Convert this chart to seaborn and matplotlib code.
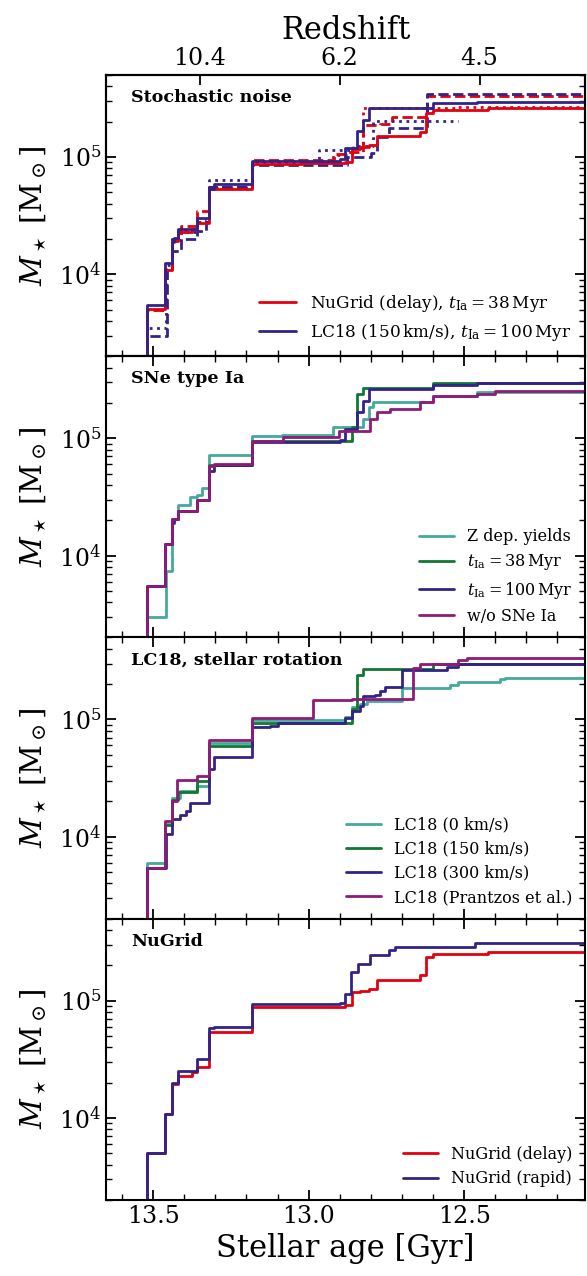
import matplotlib
matplotlib.use("Agg")
import matplotlib.pyplot as plt
import seaborn as sns
import numpy as np

# ---------------- data (stellar age [Gyr] at each step, cumulative stellar mass [Msun]) -------------
nugrid_delay_age = [13.52, 13.461, 13.44, 13.419, 13.376, 13.36, 13.32, 13.181, 13.022, 12.883,
                    12.861, 12.834, 12.805, 12.781, 12.641, 12.622, 12.60, 12.422, 12.0]
nugrid_delay_mass = [5.05e3, 1.09e4, 1.94e4, 2.29e4, 2.45e4, 2.73e4, 5.36e4, 8.77e4, 8.9e4, 9.1e4,
                     1.18e5, 1.21e5, 1.26e5, 1.50e5, 1.64e5, 2.35e5, 2.51e5, 2.6e5, 2.6e5]

nugrid_rapid_age = [13.52, 13.461, 13.44, 13.421, 13.36, 13.32, 13.303, 13.181, 12.899, 12.883,
                    12.864, 12.842, 12.802, 12.74, 12.722, 12.465, 12.0]
nugrid_rapid_mass = [5.05e3, 1.09e4, 2.0e4, 2.5e4, 3.16e4, 5.9e4, 6.0e4, 9.3e4, 9.5e4, 1.14e5,
                     1.75e5, 2.05e5, 2.46e5, 2.71e5, 2.89e5, 3.09e5, 3.09e5]

lc150_t100_age = [13.52, 13.461, 13.44, 13.432, 13.419, 13.36, 13.322, 13.303, 13.181, 12.899,
                  12.883, 12.843, 12.824, 12.805, 12.599, 12.459, 12.0]
lc150_t100_mass = [5.45e3, 1.26e4, 1.9e4, 2.05e4, 2.42e4, 2.99e4, 5.3e4, 5.9e4, 9.2e4, 9.7e4,
                   1.19e5, 1.67e5, 2.07e5, 2.64e5, 2.87e5, 2.96e5, 2.96e5]

lc150_t38_age = [13.52, 13.461, 13.44, 13.419, 13.36, 13.32, 13.181, 12.861, 12.843, 12.824, 12.599, 12.0]
lc150_t38_mass = [5.45e3, 1.26e4, 2.06e4, 2.42e4, 2.99e4, 5.93e4, 9.4e4, 1.24e5, 2.39e5, 2.67e5, 2.96e5, 2.96e5]

zdep_age = [13.52, 13.459, 13.44, 13.419, 13.381, 13.36, 13.343, 13.322, 13.181, 13.087, 12.923,
            12.824, 12.805, 12.792, 12.599, 12.459, 12.0]
zdep_mass = [3.0e3, 7.45e3, 2.06e4, 2.72e4, 3.14e4, 3.3e4, 3.8e4, 7.2e4, 1.05e5, 1.06e5, 1.24e5,
             1.46e5, 1.84e5, 2.03e5, 2.31e5, 2.5e5, 2.5e5]

noIa_age = [13.52, 13.461, 13.44, 13.419, 13.36, 13.32, 13.303, 13.181, 13.083, 12.901, 12.802,
            12.781, 12.738, 12.641, 12.599, 12.459, 12.40, 12.0]
noIa_mass = [5.45e3, 1.26e4, 2.03e4, 2.42e4, 3.0e4, 5.8e4, 6.0e4, 9.5e4, 1.03e5, 1.15e5, 1.46e5,
             1.69e5, 1.78e5, 2.03e5, 2.28e5, 2.39e5, 2.51e5, 2.51e5]

lc0_age = [13.52, 13.461, 13.44, 13.413, 13.36, 13.32, 13.181, 12.883, 12.861, 12.834, 12.813,
           12.70, 12.545, 12.518, 12.384, 12.368, 12.0]
lc0_mass = [5.97e3, 1.28e4, 2.16e4, 2.47e4, 2.72e4, 6.25e4, 9.8e4, 1.04e5, 1.27e5, 1.36e5, 1.44e5,
            1.87e5, 1.95e5, 2.07e5, 2.2e5, 2.25e5, 2.25e5]

lc300_age = [13.52, 13.459, 13.44, 13.413, 13.394, 13.381, 13.322, 13.303, 13.181, 13.124, 13.097,
             12.883, 12.861, 12.834, 12.824, 12.786, 12.77, 12.754, 12.70, 12.556, 12.518, 12.0]
lc300_mass = [5.4e3, 1.05e4, 1.41e4, 1.54e4, 1.66e4, 1.94e4, 3.78e4, 4.74e4, 8.55e4, 8.8e4, 9.25e4,
              1.03e5, 1.19e5, 1.31e5, 1.59e5, 1.63e5, 1.76e5, 1.9e5, 2.64e5, 2.78e5, 2.96e5, 2.96e5]

prantzos_age = [13.52, 13.461, 13.44, 13.422, 13.36, 13.32, 13.181, 12.985, 12.861, 12.663,
                12.641, 12.518, 12.491, 12.0]
prantzos_mass = [5.4e3, 1.35e4, 2.03e4, 3.04e4, 3.31e4, 6.7e4, 1.03e5, 1.46e5, 1.5e5, 2.77e5,
                 2.95e5, 3.2e5, 3.37e5, 3.37e5]

# stochastic-noise re-runs
nugrid_seed2_age = [13.52, 13.461, 13.44, 13.41, 13.36, 13.32, 13.181, 12.92, 12.872, 12.824,
                    12.77, 12.732, 12.62, 12.0]
nugrid_seed2_mass = [5.0e3, 1.1e4, 1.95e4, 2.6e4, 3.44e4, 5.5e4, 9.4e4, 1.07e5, 1.1e5, 1.87e5,
                     1.93e5, 2.2e5, 3.3e5, 3.3e5]
nugrid_seed3_age = [13.52, 13.461, 13.44, 13.419, 13.36, 13.32, 13.181, 12.921, 12.86, 12.825, 12.52, 12.0]
nugrid_seed3_mass = [5.0e3, 1.1e4, 2.0e4, 2.4e4, 2.8e4, 5.4e4, 9.2e4, 1.03e5, 1.2e5, 2.6e5, 2.68e5, 2.68e5]
lc_seed2_age = [13.52, 13.456, 13.44, 13.41, 13.36, 13.33, 13.322, 13.181, 12.875, 12.80, 12.78,
                12.74, 12.62, 12.0]
lc_seed2_mass = [3.0e3, 1.1e4, 1.58e4, 2.0e4, 2.35e4, 2.9e4, 5.5e4, 8.5e4, 1.0e5, 1.08e5, 1.48e5,
                 1.78e5, 3.43e5, 3.43e5]
lc_seed3_age = [13.52, 13.459, 13.44, 13.419, 13.36, 13.32, 13.181, 12.968, 12.856, 12.793, 12.52]
lc_seed3_mass = [3.5e3, 1.2e4, 2.0e4, 2.3e4, 2.8e4, 6.4e4, 9.0e4, 1.14e5, 1.25e5, 2.02e5, 2.02e5]

redshift_tick_age = [13.35, 12.9, 12.45]
redshift_tick_labels = ["10.4", "6.2", "4.5"]

panel_titles = ["Stochastic noise", "SNe type Ia", "LC18, stellar rotation", "NuGrid"]

RED = "#e3000f"
INDIGO = "#332288"
TEAL = "#44AA99"
GREEN = "#117733"
MAGENTA = "#8f1a78"

# ---------------- style ----------------
sns.set_style("ticks")
plt.rcParams["font.family"] = ["DejaVu Serif"]
plt.rcParams["mathtext.fontset"] = "dejavuserif"
plt.rcParams["xtick.direction"] = "in"
plt.rcParams["ytick.direction"] = "in"
plt.rcParams["axes.linewidth"] = 1.5
for key in ["text.color", "axes.labelcolor", "xtick.color", "ytick.color", "axes.edgecolor"]:
    plt.rcParams[key] = "black"

fig, axes = plt.subplots(4, 1, figsize=(5.87, 12.76), dpi=100, sharex=True)
fig.subplots_adjust(left=0.181, right=0.9966, top=0.9412, bottom=0.0596, hspace=0)

YMIN, YMAX = 2e3, 5e5


def step(ax, ages, masses, color, label=None, ls="-"):
    x = [ages[0]] + list(ages)
    y = [1e3] + list(masses)
    sns.lineplot(x=x, y=y, ax=ax, color=color, lw=2.0, drawstyle="steps-post",
                 estimator=None, sort=False, linestyle=ls,
                 label=label if label else "_nolegend_", legend=False)


# panel 1
ax = axes[0]
step(ax, nugrid_seed2_age, nugrid_seed2_mass, RED, ls="--")
step(ax, nugrid_seed3_age, nugrid_seed3_mass, RED, ls=":")
step(ax, lc_seed2_age, lc_seed2_mass, INDIGO, ls="--")
step(ax, lc_seed3_age, lc_seed3_mass, INDIGO, ls=":")
step(ax, nugrid_delay_age, nugrid_delay_mass, RED,
     label=r"NuGrid (delay), $t_\mathrm{Ia} = 38\,\mathrm{Myr}$")
step(ax, lc150_t100_age, lc150_t100_mass, INDIGO,
     label=r"LC18 (150$\,$km/s), $t_\mathrm{Ia} = 100\,\mathrm{Myr}$")

# panel 2
ax = axes[1]
step(ax, zdep_age, zdep_mass, TEAL, label="Z dep. yields")
step(ax, lc150_t38_age, lc150_t38_mass, GREEN, label=r"$t_\mathrm{Ia} = 38\,\mathrm{Myr}$")
step(ax, lc150_t100_age, lc150_t100_mass, INDIGO, label=r"$t_\mathrm{Ia} = 100\,\mathrm{Myr}$")
step(ax, noIa_age, noIa_mass, MAGENTA, label="w/o SNe Ia")

# panel 3
ax = axes[2]
step(ax, lc0_age, lc0_mass, TEAL, label="LC18 (0 km/s)")
step(ax, lc150_t38_age, lc150_t38_mass, GREEN, label="LC18 (150 km/s)")
step(ax, lc300_age, lc300_mass, INDIGO, label="LC18 (300 km/s)")
step(ax, prantzos_age, prantzos_mass, MAGENTA, label="LC18 (Prantzos et al.)")

# panel 4
ax = axes[3]
step(ax, nugrid_delay_age, nugrid_delay_mass, RED, label="NuGrid (delay)")
step(ax, nugrid_rapid_age, nugrid_rapid_mass, INDIGO, label="NuGrid (rapid)")

for i, ax in enumerate(axes):
    ax.set_yscale("log")
    ax.set_ylim(YMIN, YMAX)
    ax.set_xlim(13.651, 12.111)
    ax.set_ylabel(r"$M_\star$ [M$_\odot$]", fontsize=21)
    ax.tick_params(axis="both", which="major", length=7, width=1.3, labelsize=17,
                   right=True, top=(i > 0))
    ax.tick_params(axis="both", which="minor", length=4, width=1.0,
                   right=True, top=(i > 0))
    ax.xaxis.set_major_locator(matplotlib.ticker.MultipleLocator(0.5))
    ax.xaxis.set_minor_locator(matplotlib.ticker.MultipleLocator(0.1))
    ax.yaxis.set_major_locator(matplotlib.ticker.LogLocator(base=10, numticks=10))
    ax.yaxis.set_minor_locator(matplotlib.ticker.LogLocator(base=10, subs=np.arange(2, 10), numticks=20))
    ax.yaxis.set_minor_formatter(matplotlib.ticker.NullFormatter())
    ax.text(0.052, 0.92, panel_titles[i], transform=ax.transAxes, fontsize=12.6,
            fontweight="bold", va="center", ha="left")
    ax.legend(loc="lower right", frameon=False, fontsize=12.2 if i == 0 else 11.5,
              handlelength=2.2, borderaxespad=0.4, labelspacing=0.45)
    for sp in ax.spines.values():
        sp.set_linewidth(1.5)
    ax.yaxis.set_label_coords(-0.12, 0.5)

axes[3].set_xlabel("Stellar age [Gyr]", fontsize=22)

top = axes[0].twiny()
top.set_xlim(axes[0].get_xlim())
top.set_xticks(redshift_tick_age)
top.set_xticklabels(redshift_tick_labels)
top.tick_params(axis="x", which="major", direction="in", length=7, width=1.3, labelsize=17)
top.tick_params(axis="x", which="minor", top=False)
top.set_xlabel("Redshift", fontsize=22, labelpad=6)

fig.savefig("out.png", dpi=100)
